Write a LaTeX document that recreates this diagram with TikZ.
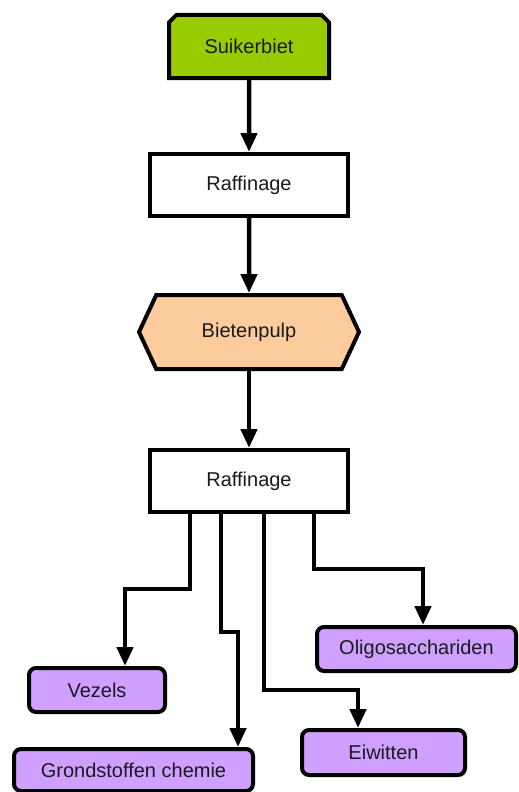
\documentclass[tikz,border=0pt]{standalone}
\usepackage{fontspec}
\setmainfont{Liberation Sans}
\usetikzlibrary{arrows.meta,shapes.misc,shapes.symbols}
\definecolor{beetgreen}{HTML}{99CC00}
\definecolor{pulporange}{HTML}{FCCC9C}
\definecolor{productlilac}{HTML}{CFA0FF}
\definecolor{textdark}{HTML}{1A1A1A}
\begin{document}
\begin{tikzpicture}
[x=1pt,y=-1pt,
  every node/.style={font=\fontsize{20}{24}\selectfont,text=textdark,inner sep=0pt},
  boxdecorate/.style={draw,line width=4pt,fill=white},
  startdecorate/.style={boxdecorate,fill=beetgreen,shape=chamfered rectangle,
    chamfered rectangle corners={north west,north east},
    chamfered rectangle xsep=13pt,chamfered rectangle ysep=0pt},
  pulpdecorate/.style={boxdecorate,fill=pulporange,shape=signal,
    signal to=west and east,signal pointer angle=130},
  productdecorate/.style={boxdecorate,fill=productlilac,rounded corners=7pt},
  linedecorate/.style={line width=4.5pt,-{Triangle[width=16pt,length=19pt]}}]
\useasboundingbox (0,0) rectangle (519,792);
%% main chain
\node (suiker) at (249,46.5) [startdecorate,minimum width=160pt,minimum height=63pt] {Suikerbiet};
\node (raf1) at (249,185) [boxdecorate,minimum width=198pt,minimum height=62pt] {Raffinage};
\node (pulp) at (249,332) [pulpdecorate,minimum width=220pt,minimum height=74pt] {Bietenpulp};
\node (raf2) at (249,481) [boxdecorate,minimum width=198pt,minimum height=62pt] {Raffinage};
%% products
\foreach \nodename/\x/\y/\w/\h/\txt in {vezels/97/690/136/44/Vezels,
  grond/133.5/770/239/42/Grondstoffen chemie,
  oligo/416.5/649/199/44/Oligosacchariden,
  eiwit/383.5/752.5/163/45/Eiwitten} {
  \node (\nodename) at (\x,\y) [productdecorate,minimum width=\w pt,minimum height=\h pt] {\txt};
}
%% edges
\path
\foreach \startnode/\endnode in {suiker/raf1, raf1/pulp, pulp/raf2} {
  (\startnode) edge[linedecorate] (\endnode)
};
\draw[linedecorate] ([xshift=-59pt]raf2.south) -- ++(0,75) -| ([xshift=28pt]vezels.north);
\draw[linedecorate] ([xshift=-28pt]raf2.south) -- ++(0,118) -| ([xshift=104.5pt]grond.north);
\draw[linedecorate] ([xshift=15pt]raf2.south) -- ++(0,176) -| ([xshift=-25.5pt]eiwit.north);
\draw[linedecorate] ([xshift=65pt]raf2.south) -- ++(0,55) -| ([xshift=6.5pt]oligo.north);
\end{tikzpicture}
\end{document}
